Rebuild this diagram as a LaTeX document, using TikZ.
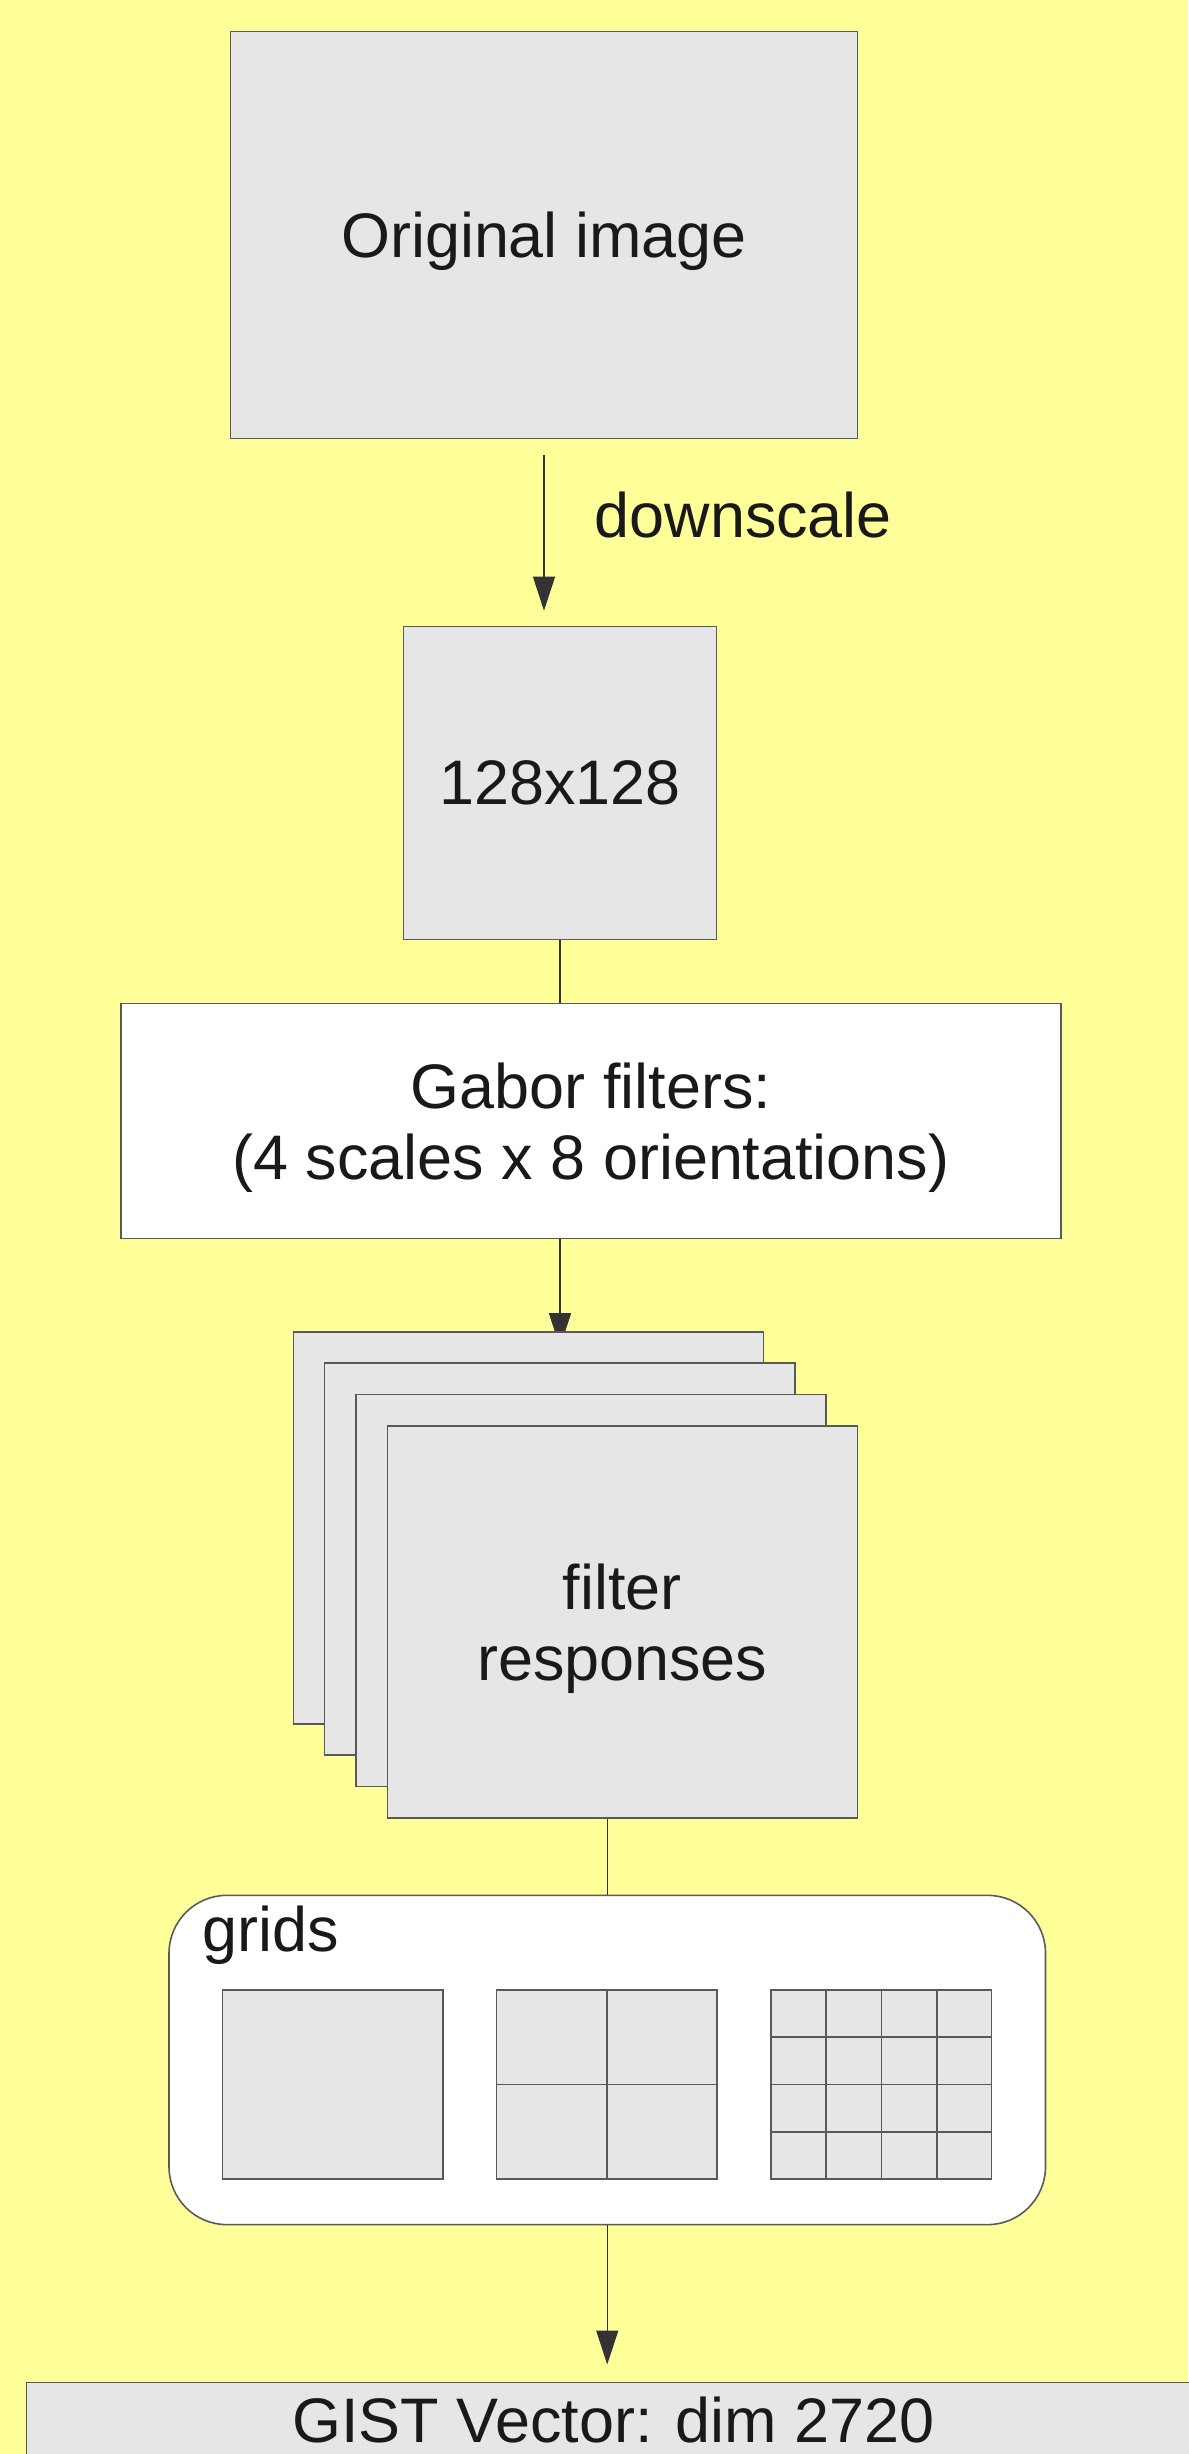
\documentclass[tikz,border=0pt]{standalone}
\usepackage{fontspec}
\setmainfont{Liberation Sans}
\usetikzlibrary{arrows.meta,calc,backgrounds}

\definecolor{bgyellow}{HTML}{FFFF99}
\definecolor{boxgray}{HTML}{E6E6E6}
\newcommand{\diagfont}{\fontsize{17.9pt}{20.3pt}\selectfont}

\tikzset{
  box/.style={draw=black!65, line width=0.45pt, fill=boxgray, inner sep=0pt,
    align=center, text=black!90, font=\diagfont, text depth=0pt},
  whitebox/.style={box, fill=white},
  sheet/.style={box, minimum width=4.70cm, minimum height=3.92cm},
  cell/.style={box, minimum width=2.205cm, minimum height=1.89cm},
  wire/.style={draw=black!80, line width=0.35pt},
  arr/.style={wire, -{Triangle[length=0.34cm,width=0.22cm]}},
  caption/.style={anchor=base west, font=\diagfont, text=black!90, inner sep=0pt}
}

\begin{document}
\begin{tikzpicture}
\useasboundingbox (0,0) rectangle (11.88,24.54);

% Boxes
\node[box, minimum width=6.27cm, minimum height=4.07cm] (orig) at (5.44,22.19) {Original image};
\node[box, minimum width=3.13cm, minimum height=3.13cm] (small) at (5.60,16.71) {128x128};
\node[whitebox, minimum width=9.40cm, minimum height=2.35cm] (gabor) at (5.91,13.33)
  {Gabor filters:\\(4 scales x 8 orientations)};

% Stack of filter responses
\foreach \i in {1,2,3}
  \node[sheet] (r\i) at ({5.284+0.313*(\i-1)},{9.26-0.313*(\i-1)}) {};
\node[sheet] (r4) at (6.223,8.321) {filter\\responses};

% Grids
\node[whitebox, rounded corners=0.58cm, minimum width=8.765cm, minimum height=3.293cm] (grids) at (6.0725,3.94) {};
\node[caption] (gridlabel) at (2.017,5.023) {grids};
\node[cell] (g1) at (3.3255,3.695) {};
\node[cell] (g2) at (6.0695,3.695) {};
\node[cell] (g3) at (8.8135,3.695) {};
\draw[draw=black!65, line width=0.45pt] (g2.north) -- (g2.south) (g2.west) -- (g2.east);
\foreach \f in {0.25,0.5,0.75} {
  \draw[draw=black!65, line width=0.45pt] ($(g3.north west)!\f!(g3.north east)$) -- ($(g3.south west)!\f!(g3.south east)$);
  \draw[draw=black!65, line width=0.45pt] ($(g3.north west)!\f!(g3.south west)$) -- ($(g3.north east)!\f!(g3.south east)$);
}

% Output vector
\node[box, minimum width=11.742cm, minimum height=0.757cm] (gist) at (6.136,0.3385) {GIST Vector: dim 2720};

% Connectors
\draw[arr, shorten <=0.155cm, shorten >=0.15cm] (orig.south) -- (orig.south |- small.north);
\node[caption] (scalelabel) at (5.94,19.16) {downscale};
\draw[wire] (small.south) -- (small.south |- gabor.north);
\draw[wire] (grids.north |- r4.south) -- (grids.north);
\draw[arr, shorten >=0.17cm] (grids.south) -- (grids.south |- gist.north);

\begin{scope}[on background layer]
  \fill[bgyellow] (0,0) rectangle (11.88,24.54);
  \draw[arr, shorten >=-0.16cm] (small.south |- gabor.south) -- (small.south |- r1.north);
\end{scope}

\end{tikzpicture}
\end{document}
